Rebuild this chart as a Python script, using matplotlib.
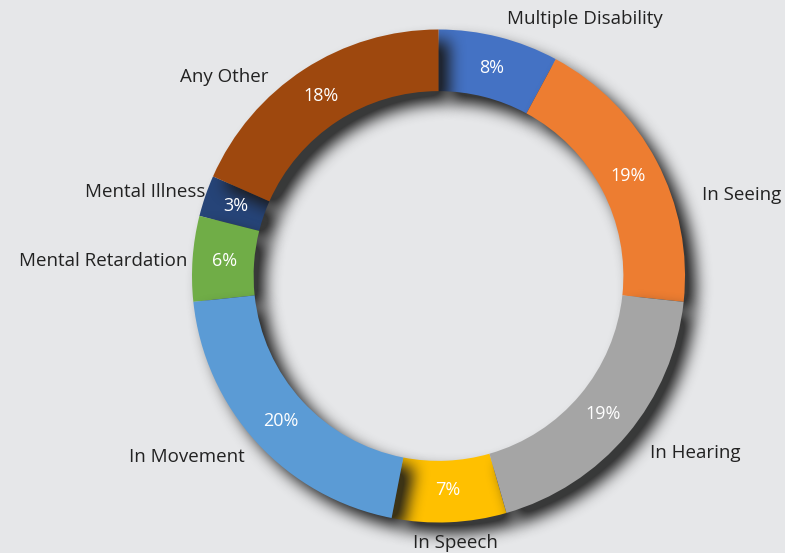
import numpy as np
import matplotlib
matplotlib.use("Agg")
import matplotlib.pyplot as plt

# Disability type shares (census style figures), clockwise from 12 o'clock
categories = ["Multiple Disability", "In Seeing", "In Hearing", "In Speech",
              "In Movement", "Mental Retardation", "Mental Illness", "Any Other"]
shares = [7.9, 18.8, 18.9, 7.5, 20.3, 5.6, 2.7, 18.4]
colors = ["#4472C4", "#ED7D31", "#A5A5A5", "#FFC000",
          "#5B9BD5", "#70AD47", "#264478", "#9E480E"]

# label placement tweaks (Excel style): angle nudge in degrees, radial distance
label_nudge = [-0.7, -10.7, 0, 1.2, 0.5, 0.7, -0.9, 7.5]
label_dist = [1.08, 1.118, 1.118, 1.087, 1.075, 1.022, 1.005, 1.063]
# stacking of slices (which shadow lands on which neighbour)
draw_rank = [0, 1, 3, 2, 6, 5, 4, 7]

BG = "#E6E7E9"
W, H = 785, 553
R = 246.5            # outer radius in pixels
CX, CY = 438.5, 276  # centre in pixels (from top-left)
WIDTH = 0.25

plt.rcParams['font.family'] = ['Open Sans', 'DejaVu Sans']

fig = plt.figure(figsize=(W / 100, H / 100), dpi=100, facecolor=BG)
ax = fig.add_axes([0, 0, 1, 1])
ax.set_facecolor(BG)
x0, x1 = -CX / R, (W - CX) / R
y0, y1 = -(H - CY) / R, CY / R

wedges, texts, autotexts = ax.pie(
    shares, labels=categories, colors=colors, startangle=90, counterclock=False,
    radius=1.0, labeldistance=1.07, pctdistance=0.87,
    autopct=lambda p: f"{p:.0f}%",
    wedgeprops=dict(width=WIDTH, edgecolor='none'),
    textprops=dict(fontsize=13.5, color='#222222'))


def box_blur(a, k):
    pad = k // 2
    for axis in (0, 1):
        p = np.pad(a, [(pad, pad) if i == axis else (0, 0) for i in range(2)], mode='edge')
        c = np.cumsum(p, axis=axis)
        c = np.insert(c, 0, 0, axis=axis)
        if axis == 0:
            a = (c[k:] - c[:-k]) / k
        else:
            a = (c[:, k:] - c[:, :-k]) / k
        a = a[:H, :W]
    return a


# every slice casts its own soft shadow down-right; slices stacked above cover it
xs = np.linspace(x0, x1, W)
ys = np.linspace(y1, y0, H)
gx, gy = np.meshgrid(xs, ys)
off = 11 / R
sx, sy = gx - off, gy + off
rr = np.hypot(sx, sy)
ang = np.degrees(np.arctan2(sy, sx))
ring = (rr <= 1.0) & (rr >= 1 - WIDTH)

for i, w in enumerate(wedges):
    t1, t2 = w.theta1, w.theta2
    rel = (ang - t1) % 360
    m = (ring & (rel <= (t2 - t1))).astype(float)
    for _ in range(3):
        m = box_blur(m, 15)
    sh = np.zeros((H, W, 4))
    sh[..., :3] = 0.1
    sh[..., 3] = np.clip(m * 1.2, 0, 1) * 0.85
    z = 2 + 2 * draw_rank[i]
    ax.imshow(sh, extent=(x0, x1, y0, y1), zorder=z, interpolation='bilinear')
    w.set_zorder(z + 1)

for i, t in enumerate(texts):
    w = wedges[i]
    mid = np.radians((w.theta1 + w.theta2) / 2 + label_nudge[i])
    t.set_position((label_dist[i] * np.cos(mid), label_dist[i] * np.sin(mid)))
    t.set_zorder(30)
for t in autotexts:
    t.set_color('white')
    t.set_fontsize(13)
    t.set_zorder(30)

# bottom label sits centred under its slice
texts[3].set_ha('center')

ax.set_xlim(x0, x1)
ax.set_ylim(y0, y1)
ax.set_aspect('equal')
ax.axis('off')

fig.savefig("out.png", dpi=100, facecolor=BG)
